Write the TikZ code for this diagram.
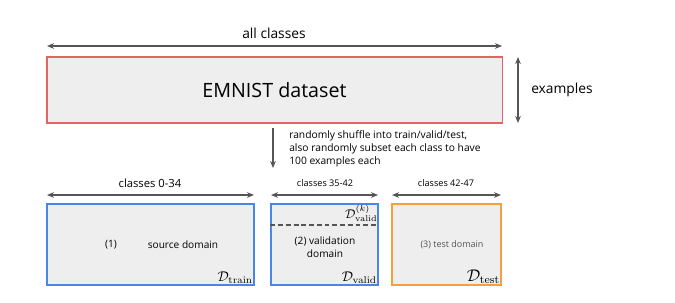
\documentclass[tikz,border=0pt]{standalone}
\usepackage[no-math]{fontspec}
\setmainfont{Open Sans}
\usepackage{amsmath}
\usetikzlibrary{arrows.meta}

\definecolor{boxfill}{HTML}{EEEEEE}
\definecolor{redline}{HTML}{E06666}
\definecolor{blueline}{HTML}{4A86E8}
\definecolor{orangeline}{HTML}{F6A03B}
\definecolor{arrgray}{HTML}{555555}

\begin{document}
\begin{tikzpicture}[
  x=0.025cm,y=-0.025cm,
  databox/.style={rectangle,draw,line width=0.8pt,fill=boxfill,inner sep=0pt},
  span/.style={{Stealth[length=5pt,width=4pt]}-{Stealth[length=5pt,width=4pt]},draw=arrgray,line width=0.8pt},
  arr/.style={-{Stealth[length=5pt,width=4pt]},draw=arrgray,line width=0.8pt},
  lbl/.style={font=\fontsize{9.8}{11}\selectfont,inner sep=0pt},
  small/.style={font=\fontsize{6.5}{7.5}\selectfont,inner sep=0pt},
  body/.style={font=\fontsize{7.2}{9.3}\selectfont,inner sep=0pt,align=center},
]
\useasboundingbox (0,0) rectangle (675,302);

% Full dataset
\node[databox,draw=redline,minimum width=11.375cm,minimum height=1.65cm,
      font=\fontsize{14}{16}\selectfont] (emnist) at (274.5,90) {EMNIST dataset};

% Class and example spans
\coordinate (allL) at (47,46);
\coordinate (allR) at (502,46);
\draw[span] (allL) -- (allR);
\node[lbl] (allcls) at (274,33) {all classes};
\coordinate (exT) at (518,57);
\coordinate (exB) at (518,123);
\draw[span] (exT) -- (exB);
\node[lbl,anchor=west] (examples) at (531,90) {examples};

% Split step
\coordinate (splitT) at (273,128);
\coordinate (splitB) at (273,168);
\draw[arr] (splitT) -- (splitB);
\node[font=\fontsize{7.3}{9.3}\selectfont,anchor=north west,align=left,inner sep=0pt] (shuffle) at (289,130)
  {randomly shuffle into train/valid/test,\\
   also randomly subset each class to have\\
   100 examples each};

% Domains
\node[databox,draw=blueline,minimum width=5.175cm,minimum height=2.025cm] (train) at (150.5,244.5) {};
\node[databox,draw=blueline,minimum width=2.675cm,minimum height=2.025cm] (valid) at (324.5,244.5) {};
\node[databox,draw=orangeline,minimum width=2.725cm,minimum height=2.025cm] (test) at (446.5,244.5) {};

% Class spans over domains
\coordinate (trL) at (47,195);
\coordinate (trR) at (254,195);
\draw[span] (trL) -- (trR);
\node[font=\fontsize{8}{9}\selectfont,inner sep=0pt] (trcls) at (150,183) {classes 0-34};
\coordinate (vaL) at (271,195);
\coordinate (vaR) at (378,195);
\draw[span] (vaL) -- (vaR);
\node[small] (vacls) at (325,183) {classes 35-42};
\coordinate (teL) at (392,195);
\coordinate (teR) at (501,195);
\draw[span] (teL) -- (teR);
\node[small] (tecls) at (446,183) {classes 42-47};

% Box contents
\node[body] (trnum) at (111,245) {(1)};
\node[body] (trtxt) at (183,245) {source domain};
\node[inner sep=1pt,anchor=south east] (dtrain) at (train.south east) {$\mathcal{D}_{\mathrm{train}}$};

\draw[dash pattern=on 3.5pt off 2pt,draw=arrgray,line width=0.8pt] (valid.west |- 0,225) coordinate (dashL) -- (valid.east |- 0,225) coordinate (dashR);
\node[inner sep=0.5pt,anchor=south east,font=\small] (dvalk) at ([yshift=1.5pt]dashR) {$\mathcal{D}^{(k)}_{\mathrm{valid}}$};
\node[body] (vatxt) at (325,247) {(2) validation\\domain};
\node[inner sep=1pt,anchor=south east] (dvalid) at (valid.south east) {$\mathcal{D}_{\mathrm{valid}}$};

\node[body,font=\fontsize{6.4}{7.5}\selectfont,text=arrgray] (tetxt) at (452,245) {(3) test domain};
\node[inner sep=1pt,anchor=south east,font=\large] (dtest) at (test.south east) {$\mathcal{D}_{\mathrm{test}}$};

\end{tikzpicture}
\end{document}
